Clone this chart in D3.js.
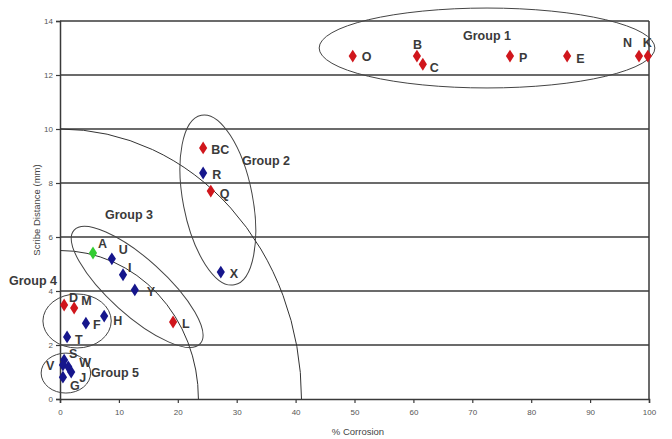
<!DOCTYPE html>
<html>
<head>
<meta charset="utf-8">
<script src="https://cdn.jsdelivr.net/npm/d3@7"></script>
<style>
  body { margin: 0; background: #fff; }
  svg text { font-family: Arial, "Liberation Sans", sans-serif; }
</style>
</head>
<body>
<svg id="chart" width="672" height="439"></svg>
<script>
// samples: name, % corrosion, scribe distance (mm), colour class
const names = ['O', 'B', 'C', 'P', 'E', 'N', 'K',
  'BC', 'R', 'Q', 'X',
  'A', 'U', 'I', 'Y', 'L',
  'D', 'M', 'F', 'H', 'T',
  'S', 'V', 'W', 'J', 'G'];
const corrosion = [49.7, 60.6, 61.6, 76.4, 86.1, 98.3, 99.8,
  24.3, 24.3, 25.6, 27.3,
  5.6, 8.8, 10.7, 12.7, 19.2,
  0.7, 2.4, 4.4, 7.5, 1.2,
  0.7, 0.5, 1.4, 1.9, 0.5];
const scribe = [12.7, 12.7, 12.4, 12.7, 12.7, 12.7, 12.7,
  9.3, 8.37, 7.7, 4.7,
  5.41, 5.19, 4.6, 4.04, 2.85,
  3.48, 3.37, 2.81, 3.07, 2.3,
  1.44, 1.26, 1.19, 1.0, 0.81];
const kind = ['r', 'r', 'r', 'r', 'r', 'r', 'r',
  'r', 'b', 'r', 'b',
  'g', 'b', 'b', 'b', 'r',
  'r', 'r', 'b', 'b', 'b',
  'b', 'b', 'b', 'b', 'b'];

// group outlines: centre (x, y), half-width (% units), half-height (mm), tilt
const groupNames = ['Group 1', 'Group 2', 'Group 3', 'Group 4', 'Group 5'];
const groupCx = [72.5, 26.8, 13.1, 2.9, 1.0];
const groupCy = [13.0, 7.37, 4.15, 2.89, 0.96];
const groupRx = [28.5, 5.9, 14.4, 5.8, 4.2];
const groupRy = [1.48, 3.2, 1.04, 1.0, 0.74];
const groupTilt = [0, -11, 42, 0, 0];

// boundary arcs (quarter ellipses through the axes)
const arcX = [41, 23.5];
const arcY = [10, 5.5];

const xTicks = d3.range(0, 101, 10);
const yTicks = d3.range(0, 15, 2);

// label placement around each point (px)
const labelDx = {O: 9, B: -4, C: 7, P: 9, E: 9, N: -16, K: -5,
  BC: 8, R: 9, Q: 9, X: 9,
  A: 5, U: 7, I: 5, Y: 12, L: 9,
  D: 5, M: 7, F: 7, H: 9, T: 8,
  S: 5, V: -17, W: 11, J: 8, G: 7};
const labelDy = {O: 5, B: -7, C: 8, P: 6, E: 7, N: -9, K: -9,
  BC: 6, R: 6, Q: 7, X: 6,
  A: -5, U: -5, I: -3, Y: 6, L: 6,
  D: -3, M: -3, F: 6, H: 9, T: 7,
  S: -2, V: 5, W: 0.5, J: 9.5, G: 13};

const colors = {r: '#d0161c', b: '#16168c', g: '#33cc33'};

const svg = d3.select('#chart');
const x = d3.scaleLinear().domain([0, 100]).range([60, 649]);
const y = d3.scaleLinear().domain([0, 14]).range([399, 21]);

// gridlines
svg.append('g')
  .selectAll('line')
  .data(yTicks.filter(d => d > 0))
  .enter()
  .append('line')
  .attr('x1', x(0))
  .attr('x2', x(100))
  .attr('y1', d => y(d))
  .attr('y2', d => y(d))
  .style('stroke', '#3a3a3a')
  .style('stroke-width', 1.5);

// right border
svg.append('line')
  .attr('x1', x(100)).attr('x2', x(100))
  .attr('y1', y(0)).attr('y2', y(14))
  .style('stroke', '#3a3a3a')
  .style('stroke-width', 1.5);

const xAxis = svg.append('g')
  .attr('transform', `translate(0,${y(0)})`)
  .call(d3.axisBottom(x).tickValues(xTicks).tickSize(4).tickPadding(6));
const yAxis = svg.append('g')
  .attr('transform', `translate(${x(0)},0)`)
  .call(d3.axisLeft(y).tickValues(yTicks).tickSize(4).tickPadding(3));

[xAxis, yAxis].forEach(g => {
  g.select('.domain').style('stroke', '#3a3a3a').style('stroke-width', 1.5);
  g.selectAll('.tick line').style('stroke', '#3a3a3a').style('stroke-width', 1.2);
  g.selectAll('.tick text')
    .style('font-size', '8px')
    .style('fill', '#555')
    .style('font-family', 'Arial, "Liberation Sans", sans-serif');
});

svg.append('text')
  .attr('x', 358)
  .attr('y', 435)
  .attr('text-anchor', 'middle')
  .style('font-size', '9.5px')
  .style('fill', '#444')
  .text('% Corrosion');

svg.append('text')
  .attr('transform', `translate(40,${y(7)}) rotate(-90)`)
  .attr('text-anchor', 'middle')
  .style('font-size', '9.5px')
  .style('fill', '#444')
  .text('Scribe Distance (mm)');

// arcs
svg.append('g')
  .selectAll('path')
  .data(arcX)
  .enter()
  .append('path')
  .attr('d', (d, i) => `M${x(0)},${y(arcY[i])} A${x(d) - x(0)},${y(0) - y(arcY[i])} 0 0 1 ${x(d)},${y(0)}`)
  .style('fill', 'none')
  .style('stroke', '#333')
  .style('stroke-width', 1);

// group ellipses
svg.append('g')
  .selectAll('ellipse')
  .data(groupNames)
  .enter()
  .append('ellipse')
  .attr('transform', (d, i) => `translate(${x(groupCx[i])},${y(groupCy[i])}) rotate(${groupTilt[i]})`)
  .attr('rx', (d, i) => x(groupRx[i]) - x(0))
  .attr('ry', (d, i) => y(0) - y(groupRy[i]))
  .style('fill', 'none')
  .style('stroke', '#444')
  .style('stroke-width', 1);

// group labels
const groupLabelX = [487, 266, 129, 33, 115];
const groupLabelY = [35, 160, 214, 280, 372];
svg.append('g')
  .selectAll('text')
  .data(groupNames)
  .enter()
  .append('text')
  .attr('x', (d, i) => groupLabelX[i])
  .attr('y', (d, i) => groupLabelY[i] + 4.5)
  .attr('text-anchor', 'middle')
  .style('font-size', '12.5px')
  .style('font-weight', 'bold')
  .style('fill', '#3a3a3a')
  .text(d => d);

// points
const diamond = d3.symbol().type(d3.symbolDiamond).size(48);
svg.append('g')
  .selectAll('path')
  .data(names)
  .enter()
  .append('path')
  .attr('d', diamond)
  .attr('transform', (d, i) => `translate(${x(corrosion[i])},${y(scribe[i])}) scale(1.1,1)`)
  .style('fill', (d, i) => colors[kind[i]]);

svg.append('g')
  .selectAll('text')
  .data(names)
  .enter()
  .append('text')
  .attr('x', (d, i) => x(corrosion[i]) + labelDx[d])
  .attr('y', (d, i) => y(scribe[i]) + labelDy[d])
  .style('font-size', '12.5px')
  .style('font-weight', 'bold')
  .style('fill', '#3a3a3a')
  .text(d => d);
</script>
</body>
</html>
